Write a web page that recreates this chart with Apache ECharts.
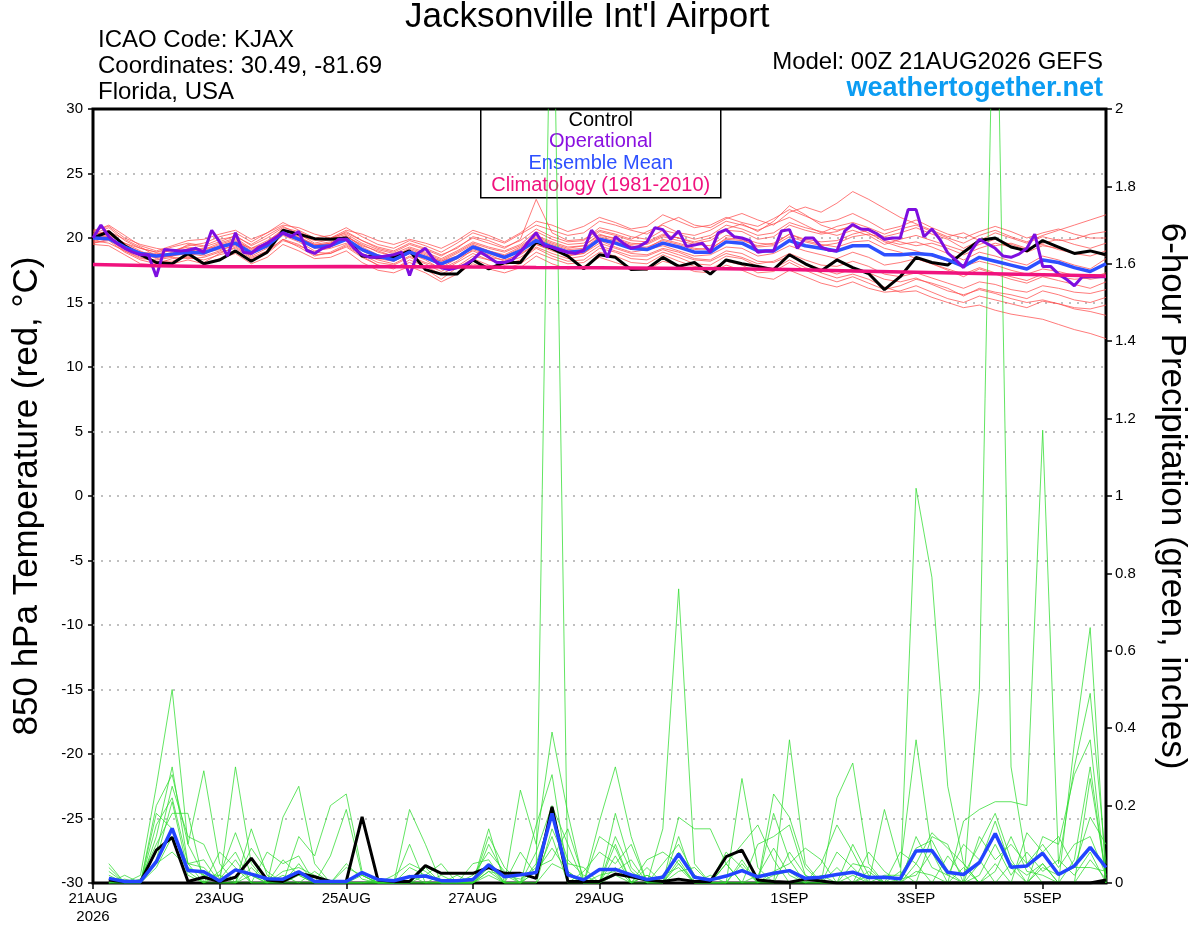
<!DOCTYPE html>
<html>
<head>
<meta charset="utf-8">
<title>Jacksonville Int'l Airport - GEFS</title>
<script src="https://cdn.jsdelivr.net/npm/echarts@6/dist/echarts.min.js"></script>
<style>
  html, body { margin: 0; padding: 0; background: #fff; }
  #chart { width: 1200px; height: 927px; }
</style>
</head>
<body>
<div id="chart"></div>
<script>
// Time axis: hours after 00Z 21AUG2026
const tickHours = [0, 48, 96, 144, 192, 264, 312, 360];
const tickLabels = ["21AUG\n2026", "23AUG", "25AUG", "27AUG", "29AUG", "1SEP", "3SEP", "5SEP"];

// 850 hPa temperature, 6-hourly from 0h
const tempControl = [
  20.0, 20.5, 19.4, 18.7, 18.1, 18.0, 18.8, 18.0, 18.3, 19.0,
  18.2, 18.9, 20.6, 20.3, 19.95, 19.9, 20.0, 18.6, 18.5, 18.5,
  19.0, 17.55, 17.2, 17.2, 18.3, 17.6, 18.1, 18.1, 19.7, 19.2,
  18.6, 17.6, 18.7, 18.5, 17.55, 17.6, 18.5, 17.8, 18.1, 17.2,
  18.3, 18.0, 17.8, 17.55, 18.7, 18.0, 17.45, 18.3, 17.7, 17.25,
  16.0, 17.0, 18.5, 18.1, 17.9, 18.9, 19.8, 20.0, 19.3, 19.0,
  19.8, 19.3, 18.8, 19.0, 18.7
];
const tempMean = [
  20.0, 19.95, 19.3, 18.8, 18.6, 18.75, 18.9, 18.84, 19.3, 19.6,
  18.84, 19.4, 20.4, 19.9, 19.3, 19.4, 19.9, 19.1, 18.6, 18.3,
  18.9, 18.5, 18.0, 18.5, 19.3, 18.9, 18.5, 19.0, 19.8, 19.3,
  18.9, 19.0, 19.9, 19.6, 19.2, 19.1, 19.6, 19.3, 18.9, 18.9,
  19.7, 19.6, 19.0, 19.0, 19.8, 19.4, 19.2, 19.0, 19.4, 19.4,
  18.7, 18.7, 18.8, 18.7, 18.3, 17.8, 18.5, 18.2, 17.9, 17.6,
  18.3, 18.1, 17.7, 17.4, 18.0
];
// operational run, 3-hourly from 0h
const tempOper = [
  20.0, 21.0, 20.1, 19.6, 19.2, 18.9, 18.7, 18.7, 17.0, 19.1,
  19.05, 19.0, 19.05, 19.2, 18.9, 20.6, 19.7, 18.6, 20.4, 18.9,
  18.8, 19.3, 19.6, 20.0, 20.4, 20.1, 20.5, 19.05, 18.8, 19.2,
  19.4, 19.9, 19.9, 19.2, 18.7, 18.5, 18.5, 18.6, 18.7, 18.9,
  17.1, 18.8, 19.2, 18.4, 17.7, 17.55, 17.7, 17.9, 18.3, 18.9,
  18.5, 18.1, 18.1, 18.3, 18.9, 19.7, 20.4, 19.4, 19.3, 19.05,
  18.9, 18.8, 19.05, 20.6, 19.8, 18.5, 20.1, 19.6, 19.2, 19.35,
  19.7, 20.8, 20.65, 19.9, 20.55, 19.35, 19.45, 19.6, 18.9, 20.4,
  20.65, 20.1, 20.0, 19.8, 18.9, 19.0, 19.0, 20.55, 20.65, 19.2,
  20.0, 20.0, 19.3, 19.05, 19.0, 20.55, 21.05, 20.7, 20.65, 20.35,
  19.9, 20.0, 20.0, 22.2, 22.2, 20.1, 20.7, 19.9, 18.85, 18.3,
  17.7, 19.05, 19.9, 19.55, 19.2, 18.6, 18.5, 18.75, 19.2, 20.3,
  17.8, 17.8, 17.2, 16.8, 16.3, 17.0, 17.0, 17.0, 17.0
];
// climatology, daily from 0h
const tempClimo = [
  17.95, 17.85, 17.78, 17.78, 17.8, 17.78, 17.75, 17.72, 17.7,
  17.66, 17.62, 17.55, 17.45, 17.35, 17.25, 17.15, 17.05
];
// ensemble members (thin red), 6-hourly from 0h
const tempMembers = [
  [20.3, 20.8, 19.8, 19.2, 18.9, 19.3, 19.6, 19.4, 19.9, 20.1,
   19.5, 20.2, 20.9, 20.3, 19.6, 19.9, 20.5, 19.8, 19.2, 18.9,
   19.5, 19.1, 18.6, 19.3, 20.0, 19.6, 19.2, 19.9, 23.0, 20.4,
   19.8, 19.9, 20.6, 20.3, 19.9, 20.5, 21.0, 20.4, 20.2, 20.6,
   21.3, 21.0, 20.6, 21.1, 21.6, 21.0, 20.4, 20.9, 21.2, 20.8,
   20.3, 20.7, 21.0, 20.5, 20.0, 19.6, 20.2, 20.6, 20.1, 19.7,
   20.2, 20.6, 21.0, 21.4, 21.8],
  [19.6, 19.8, 18.9, 18.3, 18.0, 18.4, 18.5, 18.3, 18.7, 19.0,
   18.2, 18.8, 19.8, 19.4, 18.9, 18.8, 19.3, 18.5, 17.9, 17.6,
   18.3, 17.8, 17.2, 17.8, 18.6, 18.3, 17.9, 18.3, 19.2, 18.6,
   18.2, 18.3, 19.2, 18.9, 18.4, 18.3, 18.9, 18.5, 18.0, 17.9,
   18.6, 18.4, 17.8, 17.6, 18.3, 17.7, 17.3, 16.9, 17.2, 16.8,
   16.2, 15.8, 15.9, 15.4, 15.0, 14.6, 14.8, 14.4, 14.1, 13.9,
   13.7, 13.3, 12.9, 12.6, 12.2],
  [20.1, 20.2, 19.6, 19.0, 18.4, 18.6, 19.1, 19.0, 19.5, 19.9,
   19.1, 19.6, 20.6, 20.1, 19.5, 19.7, 20.2, 19.3, 18.7, 18.2,
   18.8, 18.3, 17.6, 18.2, 19.1, 18.7, 18.2, 18.8, 19.5, 19.0,
   18.6, 18.8, 19.6, 19.2, 18.8, 18.7, 19.2, 18.9, 18.4, 18.3,
   19.0, 18.8, 18.2, 18.1, 18.6, 18.0, 17.6, 17.2, 17.6, 17.3,
   16.8, 16.6, 16.9, 16.4, 15.9, 15.6, 16.0, 15.7, 15.3, 15.0,
   15.2, 14.9, 14.5, 14.3, 14.0],
  [20.6, 20.9, 20.0, 19.5, 19.2, 19.0, 19.4, 19.6, 20.1, 20.4,
   19.7, 20.4, 21.2, 20.6, 20.0, 20.2, 20.8, 20.1, 19.5, 19.2,
   19.8, 19.4, 18.9, 19.6, 20.4, 20.0, 19.6, 20.3, 21.0, 20.6,
   20.2, 20.4, 21.3, 21.0, 20.6, 20.3, 21.1, 21.6, 21.0, 20.8,
   21.5, 21.9, 21.4, 21.0, 22.0, 22.4, 22.0, 22.7, 23.6, 23.0,
   22.3, 21.6, 21.1, 20.6, 20.1, 20.4, 19.8, 19.4, 19.6, 19.2,
   19.5, 19.1, 18.8, 19.0, 18.6],
  [19.9, 20.0, 19.1, 18.6, 18.5, 18.9, 18.7, 18.9, 19.1, 19.4,
   18.6, 19.2, 20.2, 19.7, 19.0, 19.2, 19.6, 18.8, 18.3, 18.0,
   18.6, 18.1, 17.7, 18.4, 19.0, 18.5, 18.3, 18.7, 19.5, 19.1,
   18.7, 18.8, 19.8, 19.3, 18.9, 19.1, 19.4, 19.0, 18.6, 18.7,
   19.3, 19.2, 18.6, 18.8, 19.4, 19.0, 18.7, 18.4, 18.9, 18.5,
   17.9, 18.1, 18.4, 18.0, 17.5, 17.0, 17.6, 17.2, 16.8, 16.5,
   17.0, 16.7, 16.4, 16.1, 16.6],
  [20.2, 20.6, 19.5, 18.9, 18.8, 18.7, 19.2, 18.7, 19.4, 19.8,
   19.0, 19.7, 20.7, 20.0, 19.4, 19.6, 20.1, 19.4, 19.0, 18.6,
   19.2, 18.8, 18.3, 18.9, 19.6, 19.2, 18.9, 19.4, 20.2, 19.7,
   19.3, 19.4, 20.2, 20.0, 19.6, 19.5, 20.1, 19.8, 19.5, 19.4,
   20.2, 20.0, 19.6, 19.5, 20.3, 19.9, 19.7, 19.8, 20.3, 20.6,
   20.1, 20.4, 20.8, 20.3, 19.9, 19.2, 19.8, 20.4, 20.0, 19.6,
   20.1, 19.8, 19.9, 20.3, 20.5],
  [19.8, 19.6, 19.0, 18.5, 18.2, 18.2, 18.6, 18.1, 18.8, 19.3,
   18.5, 19.0, 19.9, 19.5, 18.7, 18.8, 19.4, 18.6, 17.9, 17.7,
   18.1, 17.6, 16.8, 17.7, 18.4, 17.9, 17.6, 18.0, 18.9, 18.4,
   18.0, 18.1, 18.9, 18.6, 18.1, 18.0, 18.7, 18.2, 17.8, 17.6,
   18.2, 17.9, 17.3, 17.4, 18.1, 17.5, 17.0, 16.6, 17.0, 16.5,
   16.0, 16.3, 16.8, 16.5, 16.1, 15.5, 16.1, 15.8, 15.6, 15.3,
   15.9, 15.6, 15.2, 15.0, 15.4],
  [20.4, 20.3, 19.6, 19.2, 18.9, 19.0, 19.3, 19.1, 19.6, 20.0,
   19.2, 19.8, 20.5, 20.2, 19.8, 19.9, 20.3, 19.6, 19.1, 18.8,
   19.3, 18.9, 18.4, 19.0, 19.7, 19.3, 19.0, 19.5, 20.5, 19.9,
   19.5, 19.6, 20.5, 20.2, 19.8, 19.7, 20.3, 20.0, 19.6, 19.8,
   20.6, 20.5, 19.9, 20.1, 21.0, 20.6, 20.3, 20.5, 21.0, 20.6,
   19.8, 19.5, 19.7, 19.3, 18.8, 18.3, 18.9, 18.6, 18.2, 17.9,
   18.6, 18.3, 17.9, 17.6, 18.4],
  [20.0, 20.4, 19.4, 18.7, 18.6, 18.6, 18.8, 18.6, 19.0, 19.5,
   18.9, 19.5, 20.3, 19.8, 19.2, 19.3, 19.9, 19.0, 18.4, 18.2,
   18.8, 18.4, 17.9, 18.4, 19.2, 18.8, 18.4, 19.1, 19.9, 19.4,
   19.0, 19.1, 20.0, 19.7, 19.3, 19.3, 19.8, 19.5, 19.1, 19.2,
   19.9, 19.8, 19.4, 19.6, 20.3, 19.8, 19.5, 19.3, 19.7, 19.8,
   19.2, 18.9, 18.4, 18.0, 17.6, 17.2, 17.7, 17.3, 17.0, 16.7,
   17.2, 17.0, 16.8, 16.9, 17.3],
  [19.7, 20.1, 19.2, 18.8, 18.7, 19.1, 19.0, 18.8, 19.2, 19.6,
   18.8, 19.3, 20.4, 20.0, 19.5, 19.5, 20.0, 19.2, 18.6, 18.4,
   19.0, 18.6, 18.2, 18.6, 19.4, 19.0, 18.6, 19.2, 20.0, 19.5,
   19.1, 19.2, 20.1, 19.8, 19.4, 19.2, 19.9, 19.6, 19.2, 19.1,
   20.0, 19.9, 19.3, 19.4, 20.1, 19.7, 19.4, 19.6, 20.1, 20.3,
   20.0, 19.7, 19.4, 19.6, 19.2, 18.7, 19.2, 19.6, 19.3, 18.9,
   19.4, 19.2, 18.8, 18.6, 19.0],
  [20.5, 21.0, 20.2, 19.4, 19.0, 19.4, 19.8, 19.9, 20.3, 20.6,
   19.9, 20.4, 21.0, 20.8, 20.3, 20.0, 20.6, 20.3, 19.8, 19.5,
   19.9, 19.6, 19.2, 19.8, 20.6, 20.2, 19.7, 20.4, 21.3, 21.0,
   20.5, 20.9, 21.6, 21.2, 20.7, 20.9, 21.8, 21.3, 20.8, 21.0,
   21.6, 21.2, 20.9, 21.5, 22.2, 21.7, 21.2, 21.4, 21.9, 21.3,
   20.6, 20.9, 21.4, 20.8, 20.3, 20.0, 20.5, 20.9, 20.5, 20.0,
   20.4, 20.7, 20.3, 20.0, 20.0],
  [19.5, 19.4, 18.7, 18.0, 17.9, 18.0, 18.3, 18.0, 18.4, 18.8,
   18.0, 18.5, 19.5, 19.0, 18.4, 18.5, 19.0, 18.1, 17.5, 17.3,
   17.8, 17.3, 16.6, 17.2, 18.0, 17.6, 17.3, 17.7, 18.6, 18.0,
   17.6, 17.8, 18.5, 18.1, 17.7, 17.5, 18.2, 17.9, 17.4, 17.3,
   17.9, 17.5, 17.0, 16.8, 17.5, 17.0, 16.5, 16.2, 16.6, 16.1,
   15.8, 15.9, 16.3, 15.8, 15.3, 15.0, 15.5, 15.2, 14.9, 14.6,
   15.1, 14.9, 14.6, 14.5, 14.8],
  [20.2, 20.1, 19.3, 18.9, 18.5, 18.6, 19.0, 19.2, 19.3, 19.7,
   19.2, 19.6, 20.3, 20.0, 19.4, 19.6, 20.1, 19.5, 18.9, 18.6,
   19.1, 18.7, 18.2, 18.8, 19.5, 19.0, 18.7, 19.3, 20.1, 19.6,
   19.2, 19.4, 20.3, 19.9, 19.5, 19.6, 20.2, 20.0, 19.7, 20.0,
   20.7, 21.1, 20.5, 21.3, 22.5, 21.8, 21.0, 20.6, 20.9, 20.4,
   19.7, 19.3, 19.0, 18.6, 18.2, 17.8, 18.2, 17.9, 17.5, 17.2,
   17.6, 17.4, 17.1, 16.8, 17.0],
  [19.6, 19.9, 19.0, 18.4, 18.3, 18.5, 18.4, 18.5, 18.9, 19.2,
   18.4, 18.9, 19.9, 19.3, 18.6, 18.9, 19.5, 18.7, 18.1, 17.9,
   18.5, 18.0, 17.4, 18.1, 18.8, 18.3, 18.1, 18.5, 19.3, 18.8,
   18.4, 18.6, 19.4, 19.0, 18.6, 18.6, 19.1, 18.7, 18.3, 18.2,
   18.8, 18.5, 18.0, 18.2, 18.8, 18.3, 17.9, 17.8, 18.2, 17.8,
   17.2, 17.0, 17.3, 16.9, 16.5, 16.1, 16.6, 16.4, 16.0, 15.8,
   16.3, 16.1, 15.8, 15.7, 16.0],
  [20.3, 20.5, 19.9, 19.3, 18.6, 18.8, 19.5, 19.3, 19.7, 20.2,
   19.4, 20.0, 20.8, 20.5, 19.9, 20.0, 20.4, 19.8, 19.3, 19.0,
   19.6, 19.2, 18.7, 19.2, 20.1, 19.8, 19.3, 19.8, 20.7, 20.1,
   19.7, 19.8, 20.8, 20.5, 20.1, 19.9, 20.6, 20.3, 19.9, 20.2,
   21.0, 20.7, 20.2, 20.4, 21.2, 20.8, 20.5, 20.2, 20.6, 20.2,
   19.5, 19.9, 20.2, 19.8, 19.4, 19.0, 19.5, 19.9, 19.5, 19.1,
   19.6, 19.9, 19.5, 19.2, 19.6]
];

// 6-hour precipitation (inches), 6-hourly from 6h
const precipControl = [
  0.008, 0.003, 0.003, 0.085, 0.118, 0.004, 0.015, 0.004, 0.015, 0.064,
  0.008, 0.004, 0.025, 0.016, 0.004, 0.004, 0.171, 0.008, 0.004, 0.004,
  0.045, 0.025, 0.025, 0.025, 0.040, 0.025, 0.025, 0.012, 0.197, 0.004,
  0.004, 0.004, 0.023, 0.016, 0.008, 0.004, 0.010, 0.004, 0.004, 0.068,
  0.085, 0.008, 0.004, 0.002, 0.010, 0.005, 0, 0, 0, 0,
  0, 0, 0, 0, 0, 0, 0, 0, 0, 0,
  0, 0, 0, 0.008
];
const precipMean = [
  0.012, 0.004, 0.004, 0.055, 0.141, 0.032, 0.029, 0.005, 0.034, 0.023,
  0.011, 0.010, 0.029, 0.004, 0.004, 0.004, 0.027, 0.009, 0.006, 0.016,
  0.018, 0.006, 0.006, 0.009, 0.047, 0.016, 0.021, 0.027, 0.180, 0.021,
  0.008, 0.035, 0.035, 0.021, 0.009, 0.015, 0.075, 0.015, 0.008, 0.018,
  0.032, 0.016, 0.025, 0.032, 0.012, 0.015, 0.022, 0.028, 0.014, 0.015,
  0.011, 0.083, 0.084, 0.028, 0.022, 0.053, 0.128, 0.041, 0.044, 0.077,
  0.022, 0.044, 0.092, 0.040
];
// ensemble members (thin green), 6-hourly from 6h
const precipMembers = [
  [0.01, 0, 0.02, 0.25, 0.50, 0.10, 0.02, 0.02, 0, 0,
   0, 0, 0.05, 0, 0, 0, 0, 0, 0, 0.19,
   0.10, 0, 0, 0, 0.03, 0, 0, 0.03, 2.6, 0,
   0, 0, 0.10, 0, 0, 0, 0.05, 0, 0, 0,
   0, 0, 0, 0.37, 0.05, 0, 0, 0, 0, 0,
   0, 1.02, 0.79, 0.25, 0.05, 0, 0, 0, 0, 0.05,
   0, 0, 0.27, 0.02],
  [0.04, 0, 0, 0.12, 0.30, 0.05, 0, 0, 0.30, 0.05,
   0, 0.17, 0.25, 0.05, 0, 0, 0, 0, 0, 0,
   0, 0.02, 0, 0, 0.14, 0, 0.24, 0.10, 0.39, 0.18,
   0, 0.16, 0.30, 0.12, 0, 0.14, 0.76, 0.05, 0, 0,
   0.27, 0.04, 0, 0, 0, 0, 0.22, 0.31, 0.05, 0,
   0, 0, 0, 0, 0, 0.50, 2.6, 0.30, 0.05, 0,
   0, 0.36, 0.66, 0],
  [0, 0.01, 0, 0.20, 0.28, 0.10, 0.29, 0.05, 0, 0.14,
   0.02, 0, 0, 0, 0, 0.04, 0.02, 0, 0, 0.10,
   0, 0, 0, 0.05, 0.06, 0, 0, 0.15, 0.28, 0.02,
   0, 0, 0.07, 0, 0.02, 0, 0.17, 0.14, 0.14, 0.05,
   0, 0, 0.18, 0.06, 0, 0, 0, 0.02, 0, 0.19,
   0.04, 0.37, 0.08, 0, 0.16, 0.19, 0.21, 0.21, 0.20, 1.17,
   0.05, 0.30, 0.49, 0.05],
  [0.02, 0, 0, 0.06, 0.21, 0.03, 0, 0.02, 0.13, 0.02,
   0, 0, 0, 0, 0.07, 0.19, 0.02, 0, 0, 0,
   0.04, 0, 0, 0, 0.10, 0.02, 0, 0, 0.14, 0.05,
   0.04, 0, 0.12, 0.03, 0, 0, 0.12, 0, 0, 0,
   0.05, 0, 0.23, 0.17, 0.04, 0, 0.08, 0.04, 0, 0,
   0.03, 0, 0.12, 0.10, 0, 0.05, 0.16, 0.04, 0, 0.12,
   0.10, 0.28, 0.37, 0],
  [0, 0, 0, 0.15, 0.22, 0.05, 0.06, 0, 0, 0.09,
   0.03, 0, 0.12, 0.07, 0.20, 0.23, 0.03, 0, 0, 0,
   0, 0, 0.02, 0, 0.12, 0.04, 0, 0.08, 0.20, 0.10,
   0, 0.12, 0.09, 0, 0.04, 0, 0.06, 0, 0, 0.05,
   0, 0.10, 0.12, 0.15, 0.02, 0, 0, 0, 0.08, 0.03,
   0, 0.05, 0.13, 0.09, 0.05, 0, 0.05, 0, 0.13, 0.08,
   0.12, 0.04, 0.17, 0.10],
  [0.03, 0, 0.01, 0.10, 0.18, 0.18, 0, 0.03, 0.08, 0,
   0, 0.02, 0, 0.03, 0, 0, 0, 0, 0, 0.04,
   0.02, 0, 0, 0, 0.05, 0, 0.08, 0.02, 0.12, 0,
   0.03, 0.08, 0.05, 0.10, 0, 0.05, 0.10, 0.02, 0, 0.05,
   0.10, 0.15, 0.06, 0, 0, 0.05, 0.15, 0.08, 0, 0.02,
   0.02, 0.09, 0.11, 0.03, 0, 0.12, 0.06, 0.10, 0.05, 0.10,
   0.04, 0.10, 0.12, 0.02],
  [0, 0, 0, 0.08, 0.25, 0.12, 0.10, 0.01, 0.06, 0,
   0.08, 0.05, 0.07, 0, 0, 0, 0, 0.01, 0, 0.02,
   0, 0, 0, 0.02, 0.08, 0.03, 0, 0.05, 0.18, 0.06,
   0.02, 0, 0.04, 0, 0.06, 0.08, 0.05, 0, 0.02, 0,
   0.06, 0, 0.03, 0.05, 0.09, 0.06, 0, 0.05, 0.04, 0,
   0, 0.12, 0.04, 0.02, 0.10, 0.06, 0, 0.05, 0.02, 0.05,
   0, 0.06, 0.30, 0.01],
  [0, 0.02, 0, 0.04, 0.12, 0.05, 0.04, 0, 0, 0.02,
   0, 0.06, 0.02, 0, 0, 0.05, 0.01, 0, 0, 0,
   0.02, 0.05, 0, 0, 0.02, 0, 0, 0.03, 0.09, 0.03,
   0, 0.02, 0.03, 0.06, 0, 0, 0.03, 0.04, 0, 0,
   0, 0.02, 0.09, 0.02, 0, 0, 0.04, 0, 0.02, 0,
   0.08, 0.05, 0, 0.07, 0.02, 0.10, 0.18, 0.06, 0, 0.04,
   0.02, 0.04, 0.04, 0.03],
  [0.05, 0, 0, 0.18, 0.14, 0.02, 0, 0.08, 0.04, 0,
   0, 0.03, 0.04, 0.02, 0, 0, 0, 0, 0.02, 0.05,
   0.03, 0, 0, 0, 0.03, 0.02, 0.01, 0.04, 0.06, 0.14,
   0.01, 0, 0.18, 0.04, 0, 0.02, 0.04, 0, 0, 0.08,
   0.04, 0, 0, 0.08, 0.02, 0, 0, 0.10, 0.02, 0,
   0.01, 0.02, 0.08, 0.02, 0, 0.02, 0.10, 0.02, 0.08, 0.03,
   0.06, 0.02, 0.08, 0],
  [0, 0, 0, 0.05, 0.08, 0.04, 0.02, 0, 0, 0.04,
   0, 0, 0.02, 0, 0, 0, 0.02, 0, 0, 0,
   0, 0, 0, 0, 0.04, 0, 0, 0, 0.05, 0.03,
   0, 0, 0.02, 0, 0.02, 0, 0.08, 0.02, 0, 0,
   0, 0, 0.02, 0.03, 0, 0.02, 0, 0, 0.03, 0,
   0, 0.03, 0.02, 0, 0.04, 0, 0.03, 0.12, 0.03, 0.02,
   0, 0, 0.06, 0.01]
];

// Build [hour, value] pairs
const toPairs = (vals, step, start) => vals.map((v, i) => [start + i * step, v]);

const FONT = "Liberation Sans";
const thin = (data, axis, color) => ({
  type: "line",
  yAxisIndex: axis,
  data: data,
  symbol: "none",
  silent: true,
  lineStyle: { color: color, width: 0.75 },
  z: 2,
});
const thick = (data, axis, color, width, z) => ({
  type: "line",
  yAxisIndex: axis,
  data: data,
  symbol: "none",
  silent: true,
  lineStyle: { color: color, width: width },
  z: z,
});

const series = [];
tempMembers.forEach((m) => series.push(thin(toPairs(m, 6, 0), 0, "#ff4d4d")));
precipMembers.forEach((m) => series.push(thin(toPairs(m, 6, 6), 1, "#2edc2e")));
series.push(thick(toPairs(precipControl, 6, 6), 1, "#000000", 3, 5));
series.push(thick(toPairs(precipMean, 6, 6), 1, "#2244ff", 3.5, 6));
series.push(thick(toPairs(tempControl, 6, 0), 0, "#000000", 3, 5));
series.push(thick(toPairs(tempMean, 6, 0), 0, "#2d50ff", 3.5, 6));
series.push(thick(toPairs(tempOper, 3, 0), 0, "#7d0ee0", 3, 7));
series.push(thick(toPairs(tempClimo, 24, 0), 0, "#f0127e", 3.5, 8));

const chart = echarts.init(document.getElementById("chart"));
chart.setOption({
  animation: false,
  backgroundColor: "#fff",
  textStyle: { fontFamily: FONT },
  grid: {
    left: 93, right: 94, top: 109, bottom: 44,
    outerBoundsMode: "none",
    show: true, borderColor: "#000", borderWidth: 3, backgroundColor: "transparent",
  },
  xAxis: {
    type: "value",
    min: 0, max: 384, interval: 24,
    axisLine: { show: false, onZero: false },
    splitLine: { show: false },
    axisTick: {
      show: true, length: 6, inside: false,
      customValues: tickHours,
      lineStyle: { color: "#000", width: 1.5 },
    },
    axisLabel: {
      customValues: tickHours,
      margin: 7,
      color: "#000", fontSize: 15, fontFamily: FONT, lineHeight: 18,
      formatter: (v) => {
        const k = tickHours.indexOf(v);
        return k >= 0 ? tickLabels[k] : "";
      },
    },
  },
  yAxis: [
    {
      type: "value",
      min: -30, max: 30, interval: 5,
      name: "850 hPa Temperature (red, °C)",
      nameLocation: "middle", nameGap: 48, nameRotate: 90,
      nameTextStyle: { fontSize: 35, color: "#000", fontFamily: FONT },
      axisLine: { show: false },
      axisTick: { show: true, length: 5, lineStyle: { color: "#000", width: 1.5 } },
      axisLabel: { color: "#000", fontSize: 15, fontFamily: FONT, margin: 10 },
      splitLine: {
        show: true, showMinLine: false, showMaxLine: false,
        lineStyle: { color: "#aaaaaa", type: [2, 6], width: 1.5 },
      },
    },
    {
      type: "value",
      min: 0, max: 2, interval: 0.2,
      position: "right",
      name: "6-hour Precipitation (green, inches)",
      nameLocation: "middle", nameGap: 48, nameRotate: -90,
      nameTextStyle: { fontSize: 35, color: "#000", fontFamily: FONT },
      axisLine: { show: false },
      axisTick: { show: true, length: 6, lineStyle: { color: "#000", width: 1.5 } },
      axisLabel: { color: "#000", fontSize: 15, fontFamily: FONT, margin: 9 },
      splitLine: { show: false },
    },
  ],
  graphic: [
    { type: "text", left: 405, top: 0, style: { text: "Jacksonville Int'l Airport", font: "35px " + FONT, fill: "#000" } },
    { type: "text", left: 98, top: 28, style: { text: "ICAO Code: KJAX", font: "24px " + FONT, fill: "#000" } },
    { type: "text", left: 98, top: 54, style: { text: "Coordinates: 30.49, -81.69", font: "24px " + FONT, fill: "#000" } },
    { type: "text", left: 98, top: 80, style: { text: "Florida, USA", font: "24px " + FONT, fill: "#000" } },
    { type: "text", right: 97, top: 50, style: { text: "Model: 00Z 21AUG2026 GEFS", font: "24px " + FONT, fill: "#000" } },
    { type: "text", right: 97, top: 75, style: { text: "weathertogether.net", font: "bold 27px " + FONT, fill: "#0b9cf2" } },
    {
      type: "group", left: 480, top: 109, z: 50,
      children: [
        { type: "rect", shape: { x: 0, y: 0, width: 240, height: 88 }, style: { fill: "#fff", stroke: "#000", lineWidth: 1.5 } },
        { type: "text", x: 120, y: 1, style: { text: "Control", font: "20px " + FONT, fill: "#000", textAlign: "center" } },
        { type: "text", x: 120, y: 22, style: { text: "Operational", font: "20px " + FONT, fill: "#8a10e0", textAlign: "center" } },
        { type: "text", x: 120, y: 44, style: { text: "Ensemble Mean", font: "20px " + FONT, fill: "#2d50ff", textAlign: "center" } },
        { type: "text", x: 120, y: 66, style: { text: "Climatology (1981-2010)", font: "20px " + FONT, fill: "#f0127e", textAlign: "center" } },
      ],
    },
  ],
  series: series,
});
</script>
</body>
</html>
